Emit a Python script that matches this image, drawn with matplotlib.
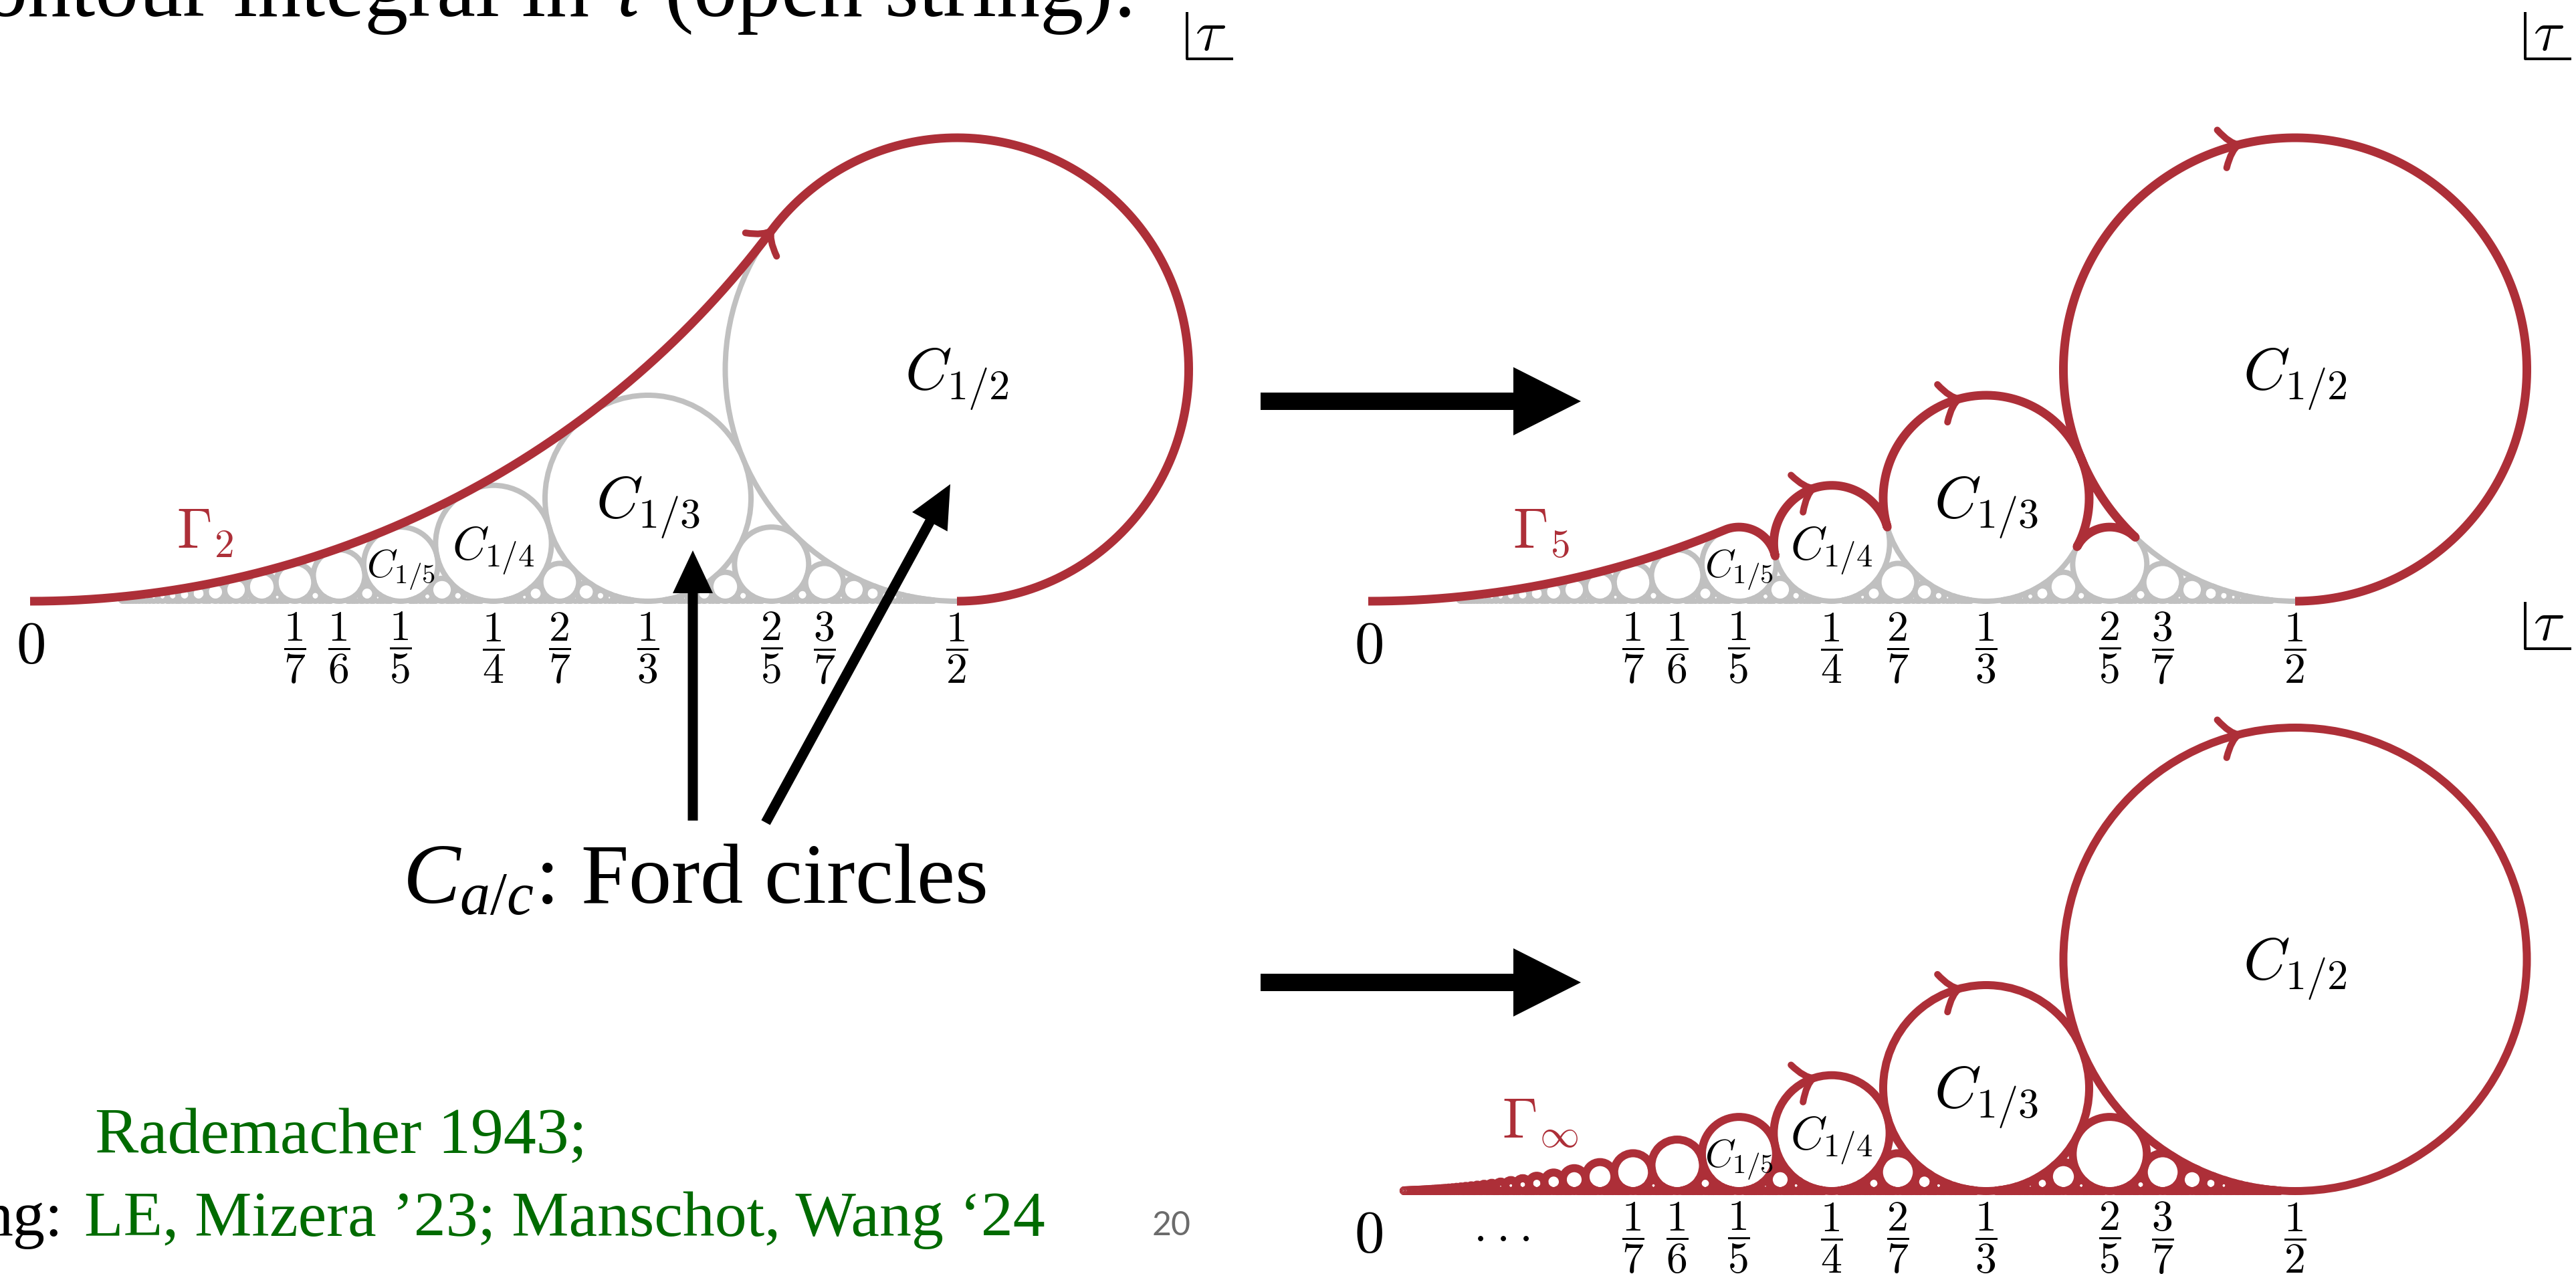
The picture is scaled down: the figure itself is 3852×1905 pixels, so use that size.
import numpy as np
import matplotlib
matplotlib.use("Agg")
import matplotlib.pyplot as plt
from matplotlib.patches import Circle, FancyArrow, PathPatch
from matplotlib.path import Path
from math import gcd

# ---------------- data ----------------
tick_num = [1, 1, 1, 1, 2, 1, 2, 3, 1]
tick_den = [7, 6, 5, 4, 7, 3, 5, 7, 2]
label_num = [1, 1, 1, 1]
label_den = [2, 3, 4, 5]
label_sizes = [64, 64, 50, 42]
arrow_num = [1, 1, 1]
arrow_den = [4, 3, 2]
arrow_angle = [108, 105, 104]          # position of the arrow tips on the circles (deg)
gamma_orders = [2, 5]
gamma_names = [r'$\Gamma_2$', r'$\Gamma_5$', r'$\Gamma_\infty$']
gamma_label_x = [0.079, 0.078, 0.072]
gray_max_den = 40
gray_min_x = 0.048
red_max_den = 60
red_min_x = 0.019

title_text = 'Contour integral in $\\tau$ (open string):'
caption_text = '$C_{a/c}$: Ford circles'
ref_line1 = 'Rademacher 1943;'
ref_prefix = 'ng:'
ref_line2 = 'LE, Mizera \u201923; Manschot, Wang \u201824'
page_number = '20'

# ---------------- style ----------------
RED = '#ad2f38'
GRAY = '#c0c0c0'
GREEN = '#006b00'
W, H, DPI = 3852, 1905, 100
S = 2772.0                                    # pixels per unit of tau
PANELS = [(45, 899), (2046, 899), (2046, 1781)]  # pixel origin of each panel
PT = 72.0 / DPI

plt.rcParams['mathtext.fontset'] = 'cm'
plt.rcParams['mathtext.rm'] = 'Liberation Serif'
plt.rcParams['mathtext.it'] = 'Liberation Serif:italic'
plt.rcParams['mathtext.bf'] = 'Liberation Serif:bold'
plt.rcParams['font.family'] = ['Liberation Serif', 'DejaVu Serif']

fig = plt.figure(figsize=(W / DPI, H / DPI), dpi=DPI)
fig.patch.set_facecolor('white')


def ford(a, c):
    r = 0.5 / c ** 2
    return a / c, r, r


def fractions(maxden, xmin):
    out = []
    for c in range(1, maxden + 1):
        for a in range(0, c + 1):
            if gcd(a, c) == 1 and xmin <= a / c <= 0.5:
                out.append((a, c))
    return sorted(out, key=lambda f: f[0] / f[1])


def contour(N, npts=500):
    F = fractions(N, 0.0)
    xs, ys = [], []
    th_last_in = None
    for i, (a, c) in enumerate(F):
        cx, cy, r = ford(a, c)
        th_in = -90.0
        if i > 0:
            px, py, _ = ford(*F[i - 1])
            th_in = np.degrees(np.arctan2(py - cy, px - cx)) % 360
        if i < len(F) - 1:
            nx, ny, _ = ford(*F[i + 1])
            th_out = np.degrees(np.arctan2(ny - cy, nx - cx))
        else:
            th_out = -90.0
            th_last_in = th_in
        th = np.radians(np.linspace(th_in, th_out, npts))
        xs.append(cx + r * np.cos(th))
        ys.append(cy + r * np.sin(th))
    return np.concatenate(xs), np.concatenate(ys), th_last_in


def tip(ax, a, c, th_deg, color=RED, L=0.0095, w=0.0105):
    cx, cy, r = ford(a, c)
    th = np.radians(th_deg)
    p = np.array([cx + r * np.cos(th), cy + r * np.sin(th)])
    t = np.array([np.sin(th), -np.cos(th)])      # clockwise direction of travel
    n = np.array([-t[1], t[0]])
    for sg in (1, -1):
        verts = [p, p - 0.5 * L * t + sg * 0.15 * w * n, p - L * t + sg * w * n]
        ax.add_patch(PathPatch(Path(verts, [Path.MOVETO, Path.CURVE3, Path.CURVE3]),
                               fill=False, ec=color, lw=10 * PT, capstyle='round',
                               zorder=6))


def panel_axes(x0, y0):
    ax = fig.add_axes([0, 0, 1, 1])
    ax.set_xlim(-x0 / S, (W - x0) / S)
    ax.set_ylim(-(H - y0) / S, y0 / S)
    ax.axis('off')
    ax.patch.set_alpha(0)
    return ax


def circles(ax, maxden, xmin, color, lw):
    for a, c in fractions(maxden, xmin):
        cx, cy, r = ford(a, c)
        ax.add_patch(Circle((cx, cy), r, fill=False, ec=color, lw=lw, zorder=3))


def labels(ax, k, dots=False):
    ylab = -70 / S
    ax.text(0.0, ylab, r'$0$', fontsize=64, ha='center', va='center', math_fontfamily='cm')
    if dots:
        ax.text(0.072, ylab, r'$\cdot\:\cdot\:\cdot$', fontsize=52, ha='center',
                va='center', math_fontfamily='cm')
    for a, c in zip(tick_num, tick_den):
        ax.text(a / c, ylab, r'$\dfrac{%d}{%d}$' % (a, c), fontsize=46, ha='center',
                va='center', math_fontfamily='cm')
    for a, c, fs in zip(label_num, label_den, label_sizes):
        cx, cy, r = ford(a, c)
        off = 0.34 * fs / PT / S
        ax.text(cx, cy - off, r'$C_{%d/%d}$' % (a, c), fontsize=fs, ha='center',
                va='baseline', math_fontfamily='cm', zorder=8)
    ax.text(gamma_label_x[k], 0.0288, gamma_names[k], fontsize=61, color=RED,
            ha='left', va='baseline', math_fontfamily='cm')
    # tau corner mark
    cxn, cyn = 0.624, 0.2926
    ax.plot([cxn, cxn, cxn + 0.0249], [cyn + 0.0253, cyn, cyn], color='k',
            lw=4 * PT, solid_capstyle='butt')
    ax.text(cxn + 0.0128, cyn + 0.0122, r'$\tau$', fontsize=62, ha='center',
            va='center', math_fontfamily='cm')


# ---- panel 1 and 2: gray circles + Gamma_N ----
for k, N in enumerate(gamma_orders):
    ax = panel_axes(*PANELS[k])
    circles(ax, gray_max_den, gray_min_x, GRAY, 8 * PT)
    x, y, th_last = contour(N)
    ax.plot(x, y, color=RED, lw=13 * PT, solid_capstyle='butt', zorder=5)
    if N == 2:
        tip(ax, 1, 2, th_last)
    else:
        for a, c, th in zip(arrow_num, arrow_den, arrow_angle):
            tip(ax, a, c, th)
    labels(ax, k)

# ---- panel 3: Gamma_infinity ----
ax = panel_axes(*PANELS[2])
circles(ax, red_max_den, red_min_x, RED, 12 * PT)
for a, c, th in zip(arrow_num, arrow_den, arrow_angle):
    tip(ax, a, c, th)
labels(ax, 2, dots=True)

# ---- overlay in pixel coordinates ----
ov = fig.add_axes([0, 0, 1, 1])
ov.set_xlim(0, W)
ov.set_ylim(H, 0)
ov.axis('off')
ov.patch.set_alpha(0)

for yy in (600, 1469):
    ov.add_patch(FancyArrow(1885, yy, 2364 - 1885, 0, width=26, head_width=102,
                            head_length=101, length_includes_head=True, color='k', lw=0))
ov.add_patch(FancyArrow(1036, 1227, 0, 823 - 1227, width=15, head_width=60,
                        head_length=64, length_includes_head=True, color='k', lw=0))
ov.add_patch(FancyArrow(1145, 1230, 1421 - 1145, 724 - 1230, width=15, head_width=60,
                        head_length=64, length_includes_head=True, color='k', lw=0))

renderer = fig.canvas.get_renderer()


def fit(t, target):
    bb = t.get_window_extent(renderer)
    t.set_fontsize(t.get_fontsize() * target / bb.width)


ov.text(1691, 24, title_text, fontsize=94, ha='right', va='baseline',
        math_fontfamily='custom')
t = ov.text(602, 1351, caption_text, fontsize=94, ha='left', va='baseline',
            math_fontfamily='custom')
fit(t, 1475 - 602)
t = ov.text(142, 1724, ref_line1, fontsize=68, ha='left', va='baseline', color=GREEN)
fit(t, 879 - 142)
t2 = ov.text(126, 1848, ref_line2, fontsize=68, ha='left', va='baseline', color=GREEN)
fit(t2, 1563 - 126)
ov.text(94, 1848, ref_prefix, fontsize=t2.get_fontsize(), ha='right', va='baseline',
        color='k')
ov.text(1752, 1847, page_number, fontsize=36, ha='center', va='baseline',
        color='#6b6b6b', family='Lato')

fig.savefig('out.png', dpi=DPI, facecolor='white')
